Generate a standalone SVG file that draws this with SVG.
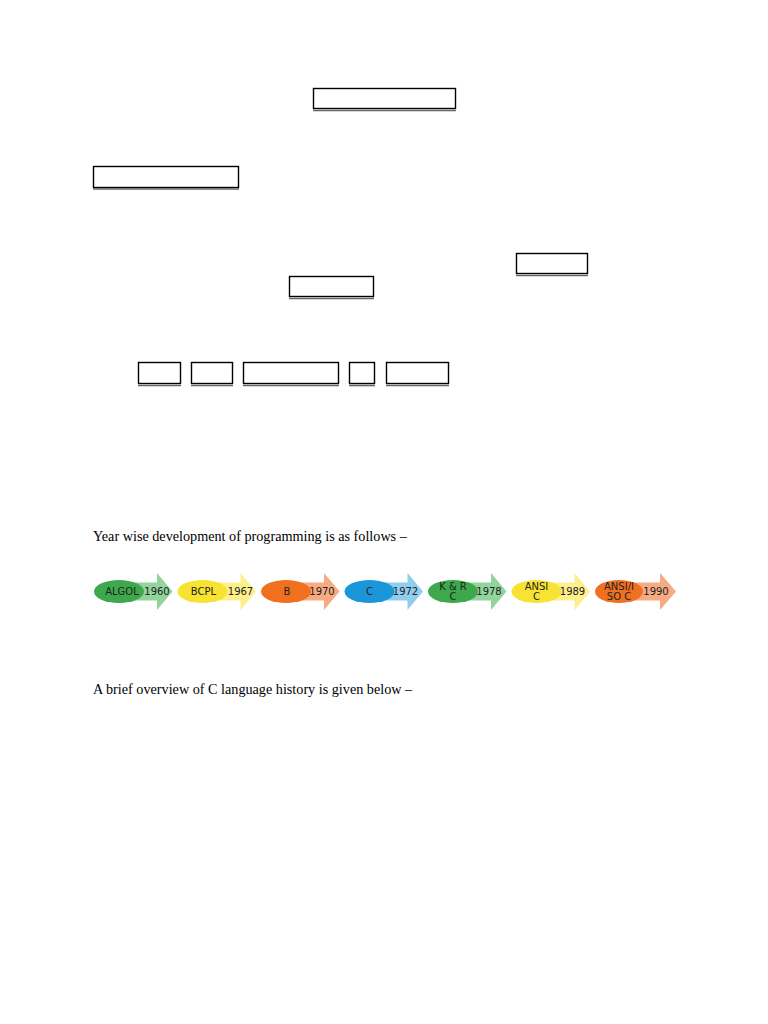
<svg xmlns="http://www.w3.org/2000/svg" width="768" height="1024" viewBox="0 0 768 1024">
<style>
.box{fill:#fff;stroke:#000;stroke-width:1.4}
.ul{stroke:#666;stroke-width:1.6}
.body{font-family:"Liberation Serif",serif;font-size:14.2px;fill:#000}
.lbl{font-family:"DejaVu Sans","Liberation Sans",sans-serif;font-size:10px;fill:#222;text-anchor:middle}
</style>
<rect width="768" height="1024" fill="#fff"/>
<g id="box1"><rect class="box" x="313.5" y="88.5" width="142" height="20"/><line class="ul" x1="313" y1="110.5" x2="456" y2="110.5"/></g>
<g id="box2"><rect class="box" x="93.5" y="166.5" width="145" height="21"/><line class="ul" x1="93" y1="189" x2="239" y2="189"/></g>
<g id="box3"><rect class="box" x="516.5" y="253.5" width="71" height="20"/><line class="ul" x1="516" y1="275.5" x2="588" y2="275.5"/></g>
<g id="box4"><rect class="box" x="289.5" y="276.5" width="84" height="20"/><line class="ul" x1="289" y1="298.5" x2="374" y2="298.5"/></g>
<g id="box5"><rect class="box" x="138.5" y="362.5" width="42" height="21"/><line class="ul" x1="138" y1="385.5" x2="181" y2="385.5"/></g>
<g id="box6"><rect class="box" x="191.5" y="362.5" width="41" height="21"/><line class="ul" x1="191" y1="385.5" x2="233" y2="385.5"/></g>
<g id="box7"><rect class="box" x="243.5" y="362.5" width="95" height="21"/><line class="ul" x1="243" y1="385.5" x2="339" y2="385.5"/></g>
<g id="box8"><rect class="box" x="349.5" y="362.5" width="25" height="21"/><line class="ul" x1="349" y1="385.5" x2="375" y2="385.5"/></g>
<g id="box9"><rect class="box" x="386.5" y="362.5" width="62" height="21"/><line class="ul" x1="386" y1="385.5" x2="449" y2="385.5"/></g>
<text class="body" x="93" y="541">Year wise development of programming is as follows –</text>
<g id="timeline">
<g id="t1" transform="translate(0,0)">
<path d="M110 582.5 H157 V573 L172.5 591.5 L157 610 V600.5 H110 Z" fill="#93d49d"/>
<ellipse cx="119" cy="591.5" rx="25" ry="11.5" fill="#3ea84c"/>
<text class="lbl" x="122" y="595">ALGOL</text><text class="lbl" x="157" y="595">1960</text>
</g>
<g id="t2" transform="translate(83.5,0)">
<path d="M110 582.5 H157 V573 L172.5 591.5 L157 610 V600.5 H110 Z" fill="#fcef8c"/>
<ellipse cx="119" cy="591.5" rx="25" ry="11.5" fill="#f8e333"/>
<text class="lbl" x="120" y="595">BCPL</text><text class="lbl" x="157" y="595">1967</text>
</g>
<g id="t3" transform="translate(167,0)">
<path d="M110 582.5 H157 V573 L172.5 591.5 L157 610 V600.5 H110 Z" fill="#f6ab82"/>
<ellipse cx="119" cy="591.5" rx="25" ry="11.5" fill="#f07020"/>
<text class="lbl" x="120" y="595">B</text><text class="lbl" x="155" y="595">1970</text>
</g>
<g id="t4" transform="translate(250.5,0)">
<path d="M110 582.5 H157 V573 L172.5 591.5 L157 610 V600.5 H110 Z" fill="#90cdef"/>
<ellipse cx="119" cy="591.5" rx="25" ry="11.5" fill="#1b97d9"/>
<text class="lbl" x="119" y="595">C</text><text class="lbl" x="155" y="595">1972</text>
</g>
<g id="t5" transform="translate(334,0)">
<path d="M110 582.5 H157 V573 L172.5 591.5 L157 610 V600.5 H110 Z" fill="#93d49d"/>
<ellipse cx="119" cy="591.5" rx="25" ry="11.5" fill="#3ea84c"/>
<text class="lbl" x="119" y="590">K &amp; R</text><text class="lbl" x="119" y="600">C</text><text class="lbl" x="155" y="595">1978</text>
</g>
<g id="t6" transform="translate(417.5,0)">
<path d="M110 582.5 H157 V573 L172.5 591.5 L157 610 V600.5 H110 Z" fill="#fcef8c"/>
<ellipse cx="119" cy="591.5" rx="25" ry="11.5" fill="#f8e333"/>
<text class="lbl" x="119" y="590">ANSI</text><text class="lbl" x="119" y="600">C</text><text class="lbl" x="155" y="595">1989</text>
</g>
<g id="t7" transform="translate(501,0)">
<path d="M110 582.5 H159 V573 L175 591.5 L159 610 V600.5 H110 Z" fill="#f6ab82"/>
<ellipse cx="118" cy="591.5" rx="24" ry="11.5" fill="#f07020"/>
<text class="lbl" x="118" y="590">ANSI/I</text><text class="lbl" x="118" y="600">SO C</text><text class="lbl" x="155" y="595">1990</text>
</g>
</g>
<text class="body" x="93" y="694">A brief overview of C language history is given below –</text>
</svg>
